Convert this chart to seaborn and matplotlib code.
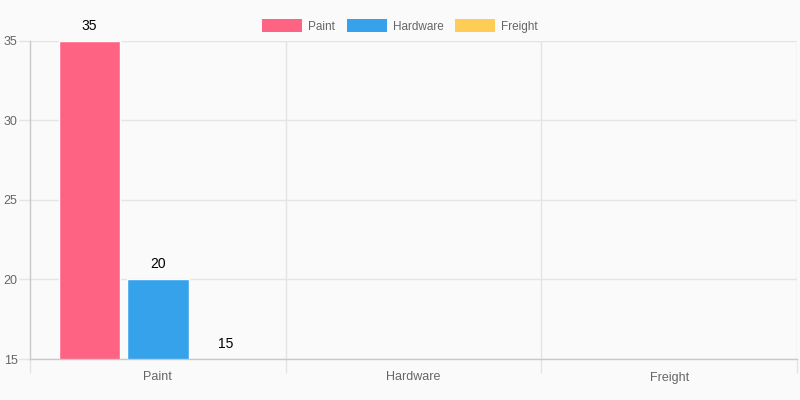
import matplotlib
matplotlib.use("Agg")
import matplotlib.pyplot as plt
import seaborn as sns
import pandas as pd
import numpy as np
from matplotlib.patches import Patch

categories = ["Paint", "Hardware", "Freight"]
series_names = ["Paint", "Hardware", "Freight"]
series_values = [35, 20, 15]
series_colors = ["#ff6384", "#36a2eb", "#ffcd56"]
y_ticks = [15, 20, 25, 30, 35]

df = pd.DataFrame({
    "category": [categories[0]] * len(series_names),
    "series": series_names,
    "value": series_values,
})

sns.set_theme(style="white")
plt.rcParams['font.family'] = ['Liberation Sans', 'DejaVu Sans']

bg = "#fafafa"
fig = plt.figure(figsize=(8, 4), dpi=100, facecolor=bg)
ax = fig.add_axes([30/800, 41/400, 767/800, 318/400])
ax.set_facecolor(bg)

sns.barplot(data=df, x="category", y="value", hue="series", order=categories,
            hue_order=series_names, palette=series_colors, width=0.8, gap=0.1,
            ax=ax, legend=False, saturation=1)

ax.set_ylim(15, 35)
ax.set_xlim(-0.5, 2.5)
ax.set_yticks(y_ticks)
ax.set_xlabel("")
ax.set_ylabel("")

grid_c = "#e4e4e4"
for y in y_ticks:
    ax.axhline(y, color=grid_c, lw=1, zorder=0)
for x in [0.5, 1.5, 2.5]:
    ax.axvline(x, color=grid_c, lw=1, zorder=0)

for s in ["top", "right"]:
    ax.spines[s].set_visible(False)
ax.spines["left"].set_color("#c8c8c8")
ax.spines["bottom"].set_color("#c8c8c8")
ax.spines["left"].set_linewidth(1)
ax.spines["bottom"].set_linewidth(1)

ax.tick_params(axis="y", length=8, width=1, color=grid_c, pad=1, labelsize=9, labelcolor="#666666", left=True)
ax.tick_params(axis="x", length=0, pad=9, labelsize=9, labelcolor="#666666")
ax.set_xticks([-0.5, 0.5, 1.5, 2.5], minor=True)
ax.tick_params(axis="x", which="minor", length=10, width=1, color=grid_c, bottom=True)

for bars in ax.containers:
    for bar in bars:
        h = bar.get_height()
        if np.isnan(h):
            continue
        ax.annotate(f"{int(h)}", (bar.get_x() + bar.get_width()/2, max(h, 15)),
                    xytext=(0, 6), textcoords="offset points", ha="center",
                    va="bottom", fontsize=10, color="black", annotation_clip=False)

handles = [Patch(facecolor=c, edgecolor="none", label=n) for n, c in zip(series_names, series_colors)]
fig.legend(handles=handles, loc="center", bbox_to_anchor=(0.5, 1 - 26/400), ncol=3,
           frameon=False, fontsize=8.5, handlelength=3.4, handleheight=1.2,
           handletextpad=0.5, columnspacing=1.0, labelcolor="#666666")

fig.savefig("out.png", dpi=100, facecolor=bg)
